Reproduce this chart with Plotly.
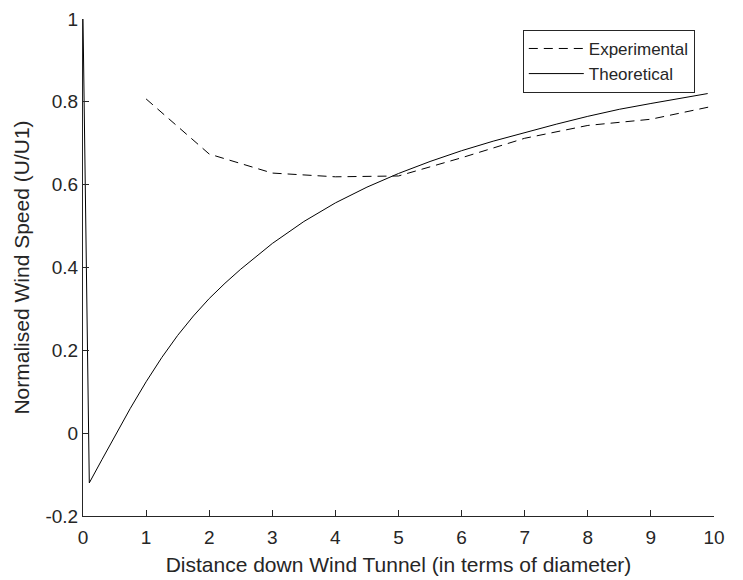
import plotly.graph_objects as go

exp_x = [1, 2, 3, 4, 5, 6, 7, 8, 9, 10]
exp_y = [0.807, 0.674, 0.628, 0.619, 0.621, 0.665, 0.712, 0.743, 0.758, 0.790]

theo_x = [0, 0.1, 0.3, 0.5, 0.75, 1, 1.25, 1.5, 1.75, 2, 2.25, 2.5, 2.75, 3,
          3.5, 4, 4.5, 5, 5.5, 6, 6.5, 7, 7.5, 8, 8.5, 9, 9.5, 9.9]
theo_y = [1.0, -0.12, -0.064, -0.008, 0.06, 0.124, 0.183, 0.236, 0.283, 0.325, 0.362,
          0.396, 0.427, 0.458, 0.511, 0.556, 0.594, 0.627, 0.656, 0.682, 0.705, 0.726,
          0.746, 0.765, 0.782, 0.796, 0.809, 0.82]

x_ticks = list(range(0, 11))
y_ticks = [-0.2, 0, 0.2, 0.4, 0.6, 0.8, 1]
y_tick_text = ["-0.2", "0", "0.2", "0.4", "0.6", "0.8", "1"]

ink = "#262626"
fam = "Liberation Sans, Arial, sans-serif"

fig = go.Figure()
fig.add_trace(go.Scatter(x=exp_x, y=exp_y, mode="lines", name="Experimental",
                         line=dict(color="black", width=1, dash="9px,6px")))
fig.add_trace(go.Scatter(x=theo_x, y=theo_y, mode="lines", name="Theoretical",
                         line=dict(color="black", width=1)))

tick_font = dict(family=fam, size=19, color=ink)
title_font = dict(family=fam, size=21, color=ink)
fig.update_layout(
    width=743, height=580,
    margin=dict(l=83, r=29, t=19, b=64),
    paper_bgcolor="white", plot_bgcolor="white",
    font=dict(family=fam, size=19, color=ink),
    showlegend=True,
    legend=dict(x=0.697, y=0.978, xanchor="left", yanchor="top",
                bordercolor=ink, borderwidth=1, bgcolor="white",
                itemwidth=55,
                font=dict(family=fam, size=17, color=ink), tracegroupgap=0),
    xaxis=dict(range=[0, 10], tickvals=x_ticks, ticks="inside", ticklen=6,
               tickcolor=ink, showline=True, linecolor=ink, linewidth=1,
               showgrid=False, zeroline=False, tickfont=tick_font,
               ticklabelstandoff=4, automargin=False,
               title=dict(text="Distance down Wind Tunnel (in terms of diameter)",
                          font=title_font, standoff=10)),
    yaxis=dict(range=[-0.2, 1], tickvals=y_ticks, ticktext=y_tick_text, ticks="inside",
               ticklen=6, tickcolor=ink, showline=True, linecolor=ink,
               linewidth=1, showgrid=False, zeroline=False, tickfont=tick_font,
               automargin=False,
               title=dict(text="Normalised Wind Speed (U/U1)",
                          font=title_font, standoff=10)),
)

fig.write_html("out.html")
